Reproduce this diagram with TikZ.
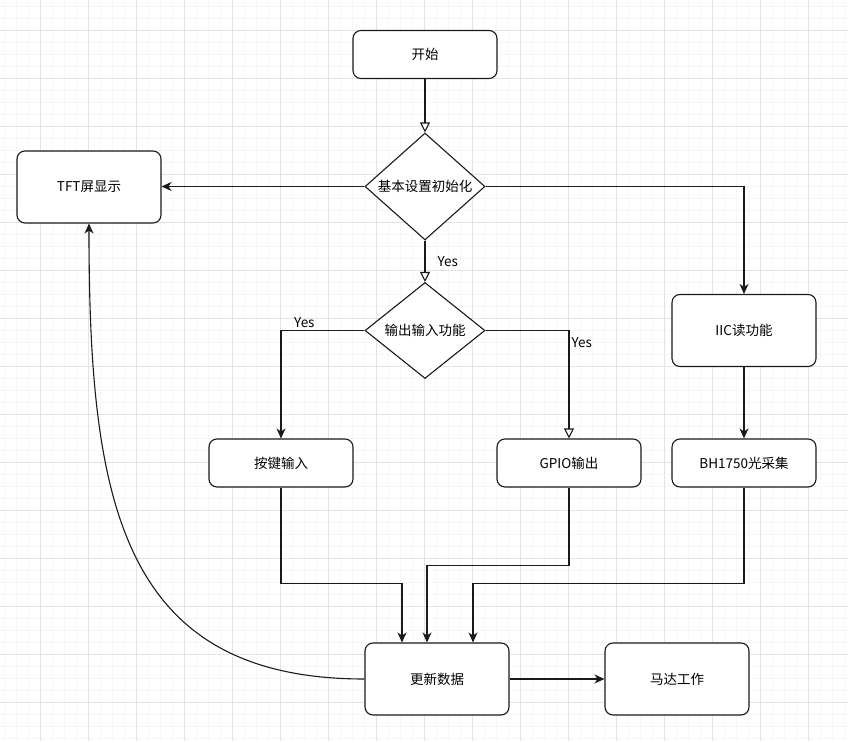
\documentclass[tikz,border=0pt]{standalone}
\usepackage{fontspec}
\setmainfont{Noto Sans CJK SC}
\usetikzlibrary{positioning,arrows.meta,shapes.geometric}

\definecolor{gridminor}{HTML}{F6F6F6}
\definecolor{gridmajor}{HTML}{E3E3E3}
\definecolor{linecol}{HTML}{1A1A1A}

\tikzset{
  box/.style={draw=linecol, rounded corners=8pt, line width=1.1pt, minimum width=144pt, minimum height=48pt, inner sep=0pt, fill=white},
  tallbox/.style={box, minimum height=72pt},
  decide/.style={draw=linecol, diamond, line width=1.1pt, minimum width=120pt, minimum height=96pt, inner sep=0pt, fill=white},
  link/.style={draw=linecol, line width=1.1pt, -{Stealth[length=10pt,width=9pt,inset=3pt]}},
  openlink/.style={draw=linecol, line width=1.1pt, -{Triangle[open,length=10pt,width=10pt,fill=white]}},
  yes/.style={inner sep=2pt}
}

\begin{document}
\begin{tikzpicture}[x=1pt, y=-1pt, every node/.style={font=\fontsize{13.5}{16}\selectfont}]
\useasboundingbox (0,0) rectangle (848,741);
\fill[white] (0,0) rectangle (848,741);

% background grid
\foreach \x in {4,16,...,844} {
    \draw[gridminor, line width=0.6pt] (\x,0) -- (\x,741);
}
\foreach \y in {6,18,...,738} {
    \draw[gridminor, line width=0.6pt] (0,\y) -- (848,\y);
}
\foreach \x in {40,88,...,808} {
    \draw[gridmajor, line width=0.8pt] (\x,0) -- (\x,741);
}
\foreach \y in {30,78,...,702} {
    \draw[gridmajor, line width=0.8pt] (0,\y) -- (848,\y);
}

% blocks
\node[box] (start) at (425,54.5) {开始};
\node[decide] (init) at (425,186.5) {基本设置初始化};
\node[tallbox] (tft) at (89,187) {TFT屏显示};
\node[tallbox] (iic) at (744,330.5) {IIC读功能};
\node[decide] (io) at (425,330.5) {输出输入功能};
\node[box] (key) at (281,463) {按键输入};
\node[box] (gpio) at (569,463) {GPIO输出};
\node[box] (bh) at (744,463) {BH1750光采集};
\node[tallbox] (upd) at (437,679) {更新数据};
\node[tallbox] (motor) at (677,679) {马达工作};

% connectors
\draw[openlink] (start) -- (init);
\draw[link] (init.west) -- (init.west -| tft.east);
\draw[link] (init.east) -| (iic.north);
\draw[openlink] (init.south) -- node[right=10pt, yes] {Yes} (io.north);
\draw[link] (io.west) -| node[pos=0.36, above, yes] {Yes} (key.north);
\draw[openlink] (io.east) -| node[pos=0.52, anchor=north west, yes] {Yes} (gpio.north);
\draw[link] (iic) -- (bh);

\draw[link] (key.south) -- ++(0,96) -| ([xshift=-35pt]upd.north); % left branch
\draw[link] (gpio.south) -- ++(0,78) -| ([xshift=-10pt]upd.north); % middle branch
\draw[link] (bh.south) -- ++(0,96) -| ([xshift=36pt]upd.north); % right branch

\draw[link] (upd) -- (motor);
\draw[link] (upd.west) .. controls (120,679) and (89,500) .. (tft.south);
\end{tikzpicture}
\end{document}
